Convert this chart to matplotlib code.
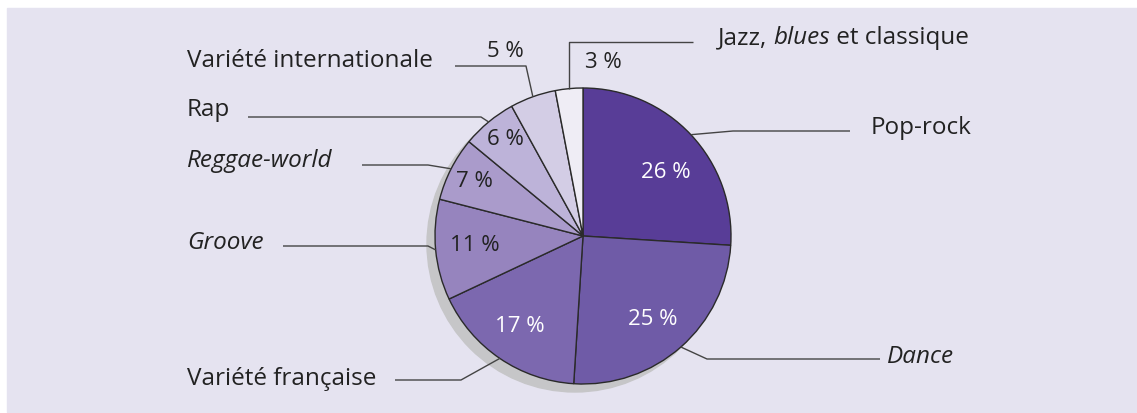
import numpy as np
import matplotlib
matplotlib.use("Agg")
import matplotlib.pyplot as plt
from matplotlib.patches import Circle, Rectangle

# données (parts en %)
genres = ["Pop-rock", "Dance", "Variété française", "Groove", "Reggae-world",
          "Rap", "Variété internationale", "Jazz, blues et classique"]
parts = [26, 25, 17, 11, 7, 6, 5, 3]
pct_labels = ["26 %", "25 %", "17 %", "11 %", "7 %", "6 %", "5 %", "3 %"]

colors = ["#583d97", "#6f5ba7", "#7c68af", "#9684be", "#aa9bcb",
          "#bdb3d9", "#d3cde5", "#efedf5"]
pct_colors = ["white", "white", "white", "#222222", "#222222",
              "#222222", "#222222", "#222222"]

W, H = 1137, 414
CX, CY, R = 583, H - 237, 148
FS = 17.5

plt.rcParams['font.family'] = ['Open Sans', 'DejaVu Sans']
fig = plt.figure(figsize=(W / 100, H / 100), dpi=100)
ax = fig.add_axes([0, 0, 1, 1])

# fond
ax.add_patch(Rectangle((7, 1), W - 7, H - 10, color="#e5e3f0", zorder=0))
# ombre
ax.add_patch(Circle((CX - 8, CY - 8), R, color="#c6c6c8", zorder=1))

wedges, _ = ax.pie(parts, colors=colors, startangle=90, counterclock=False,
                   center=(CX, CY), radius=R, frame=True,
                   wedgeprops=dict(edgecolor="#2a2a2a", linewidth=1.0))
for w in wedges:
    w.set_zorder(2)
ax.set_xlim(0, W)
ax.set_ylim(0, H)
ax.set_aspect("equal")
ax.axis("off")

mids = [(w.theta1 + w.theta2) / 2 for w in wedges]

# étiquettes de pourcentage : distance (en rayons) et décalage d'angle
pct_r = [0.71, 0.73, 0.74, 0.73, 0.82, 0.84, 1.36, 1.19]
pct_da = [-5, -1.5, -1, -1, 0, -1, 3, -12]
for lab, m, r, da, c in zip(pct_labels, mids, pct_r, pct_da, pct_colors):
    a = np.deg2rad(m + da)
    ax.text(CX + r * R * np.cos(a), CY + r * R * np.sin(a), lab,
            ha="center", va="center", fontsize=16, color=c, zorder=4)

# libellés et lignes de rappel (coordonnées image : y vers le bas)
text_xy = [(871, 128), (887, 357), (187, 379), (187, 243), (187, 161),
           (187, 110), (187, 61), (718, 38)]
line_y = [132, 360, 381, 247, 166, 118, 67, 43]
line_x0 = [850, 880, 395, 283, 362, 248, 455, 693]
elbow_x = [733, 707, 461, 428, 428, 481, 526, None]
italic = [False, True, False, True, True, False, False, False]

for i, name in enumerate(genres):
    a = np.deg2rad(mids[i])
    ex, ey = CX + R * np.cos(a), CY + R * np.sin(a)
    ly = H - line_y[i]
    bx = ex if elbow_x[i] is None else elbow_x[i]
    ax.plot([line_x0[i], bx, ex], [ly, ly, ey], color="#444444", lw=1.0,
            zorder=3, solid_capstyle="butt")
    tx, ty = text_xy[i]
    if i == 7:
        t1 = ax.text(tx, H - ty, "Jazz, ", ha="left", va="center",
                     fontsize=FS, color="#222222")
        t2 = ax.annotate("blues", xy=(1, 0), xycoords=t1, va="bottom",
                         ha="left", fontsize=FS, style="italic", color="#222222")
        ax.annotate(" et classique", xy=(1, 0), xycoords=t2, va="bottom",
                    ha="left", fontsize=FS, color="#222222")
    else:
        ax.text(tx, H - ty, name, ha="left", va="center", fontsize=FS,
                style="italic" if italic[i] else "normal", color="#222222")

fig.savefig("out.png", dpi=100, facecolor="white")
